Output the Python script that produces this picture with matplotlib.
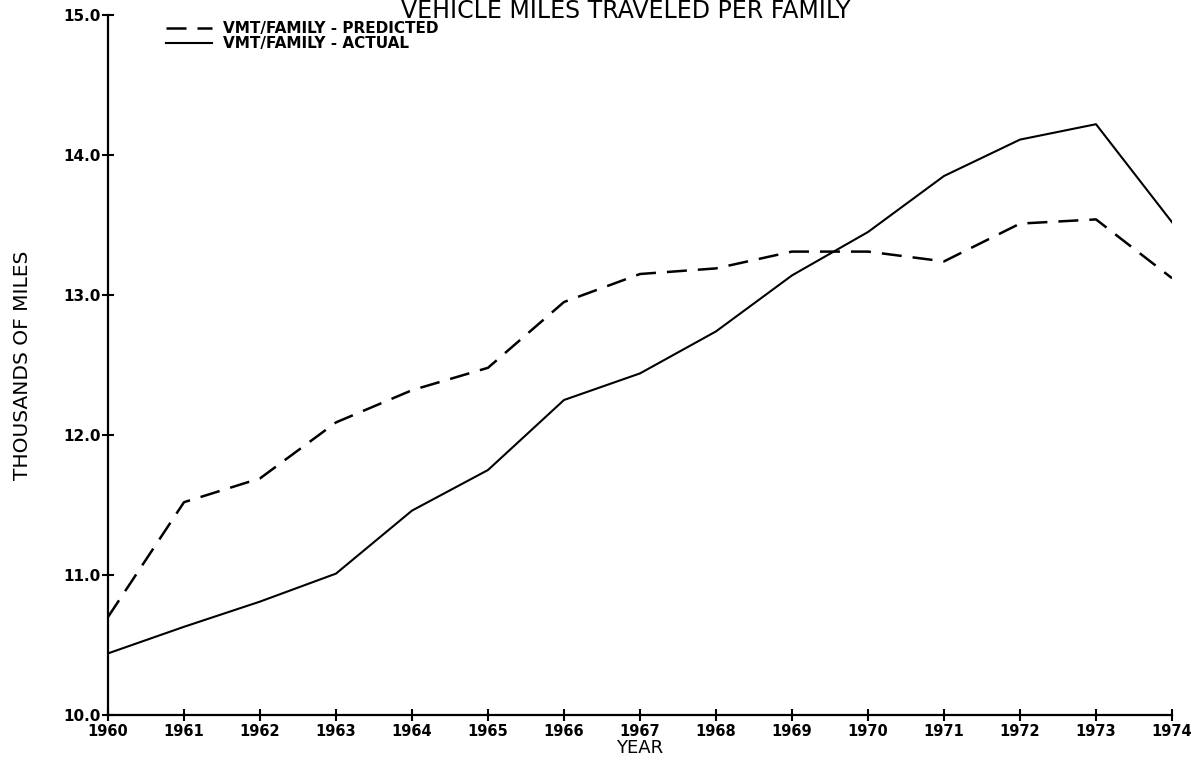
import matplotlib
matplotlib.use("Agg")
import matplotlib.pyplot as plt

# values (thousands of miles)
years = [1960, 1961, 1962, 1963, 1964, 1965, 1966, 1967,
         1968, 1969, 1970, 1971, 1972, 1973, 1974]
predicted = [10.70, 11.52, 11.69, 12.09, 12.32, 12.48, 12.95, 13.15,
             13.19, 13.31, 13.31, 13.24, 13.51, 13.54, 13.12]
actual = [10.44, 10.63, 10.81, 11.01, 11.46, 11.75, 12.25, 12.44,
          12.74, 13.14, 13.45, 13.85, 14.11, 14.22, 13.52]
yticks = [10.0, 11.0, 12.0, 13.0, 14.0, 15.0]

W, H = 1199, 767
fig = plt.figure(figsize=(W / 100, H / 100), dpi=100)
ax = fig.add_axes([108 / W, 1 - 715 / H, (1172 - 108) / W, (715 - 15) / H])

ax.plot(years, predicted, color='black', lw=1.8, dashes=(8, 4.4),
        label='VMT/FAMILY - PREDICTED')
ax.plot(years, actual, color='black', lw=1.5, label='VMT/FAMILY - ACTUAL')

ax.set_xlim(1960, 1974)
ax.set_ylim(10, 15)
ax.set_xticks(years)
ax.set_xticklabels([str(y) for y in years], fontsize=10.5, fontweight='bold')
ax.set_yticks(yticks)
ax.set_yticklabels(['%.1f' % v for v in yticks], fontsize=11, fontweight='bold')
ax.tick_params(direction='inout', length=9, width=1.5, pad=1)
ax.tick_params(axis='x', pad=2)

for side in ['top', 'right']:
    ax.spines[side].set_visible(False)
for side in ['left', 'bottom']:
    ax.spines[side].set_linewidth(1.6)

ax.set_xlabel('YEAR', fontsize=13, labelpad=0)
ax.set_ylabel('THOUSANDS OF MILES', fontsize=14.5, labelpad=22)

# title hugs the top edge
fig.text(626 / W, 1 - 18 / H, 'VEHICLE MILES TRAVELED PER FAMILY',
         fontsize=17, ha='center', va='baseline')

ax.legend(loc='upper left', bbox_to_anchor=(166 / W, 1 - 21 / H),
          bbox_transform=fig.transFigure, frameon=False,
          prop={'size': 11, 'weight': 'bold'}, handlelength=3.0,
          handletextpad=0.7, labelspacing=0.0, borderpad=0, borderaxespad=0)

fig.savefig('out.png', dpi=100)
